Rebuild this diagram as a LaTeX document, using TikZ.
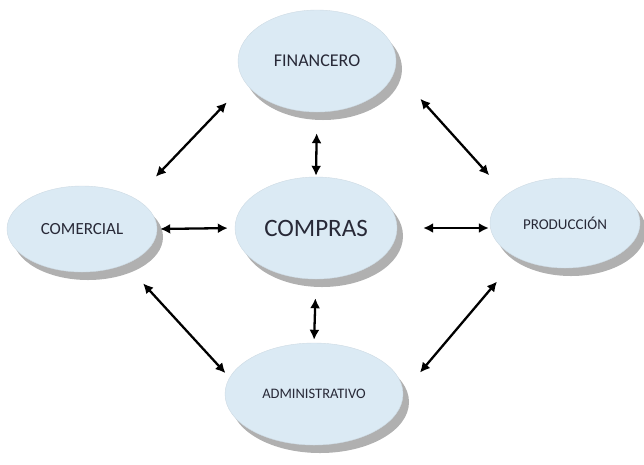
\documentclass[tikz,border=0pt]{standalone}
\usepackage{fontspec}
\setmainfont{Carlito}
\usetikzlibrary{shapes.geometric,shadows,arrows.meta}

\definecolor{deptblue}{RGB}{219,234,244}
\definecolor{deptink}{RGB}{40,41,55}

\tikzset{
  dept/.style = {ellipse, inner sep=0pt, fill=deptblue, draw=deptblue!85!gray,
    line width=0.4pt, text=deptink,
    drop shadow={shadow xshift=6pt, shadow yshift=-8pt, fill=gray!62, opacity=1}},
  link/.style = {line width=2.3pt, {Latex[length=10pt,width=10pt]}-{Latex[length=10pt,width=10pt]}}
}

\begin{document}
\begin{tikzpicture}[x=1pt, y=-1pt]
\useasboundingbox (0,0) rectangle (644,464);

% Departments
\node[dept, minimum width=158pt, minimum height=102pt, font=\fontsize{18}{20}\selectfont]
  (fin) at (317,61) {FINANCERO};
\node[dept, minimum width=162pt, minimum height=102pt, font=\fontsize{25}{28}\selectfont]
  (cmp) at (316,228) {COMPRAS};
\node[dept, minimum width=150pt, minimum height=86pt, font=\fontsize{17}{19}\selectfont]
  (com) at (82,229) {COMERCIAL};
\node[dept, minimum width=150pt, minimum height=90pt, font=\fontsize{15}{17}\selectfont]
  (pro) at (565,223) {PRODUCCIÓN};
\node[dept, minimum width=178pt, minimum height=102pt, font=\fontsize{14.5}{16}\selectfont]
  (adm) at (314,394) {ADMINISTRATIVO};

% Links to COMPRAS
\draw[link, shorten <=3pt, shorten >=7pt] (com.east) -- (cmp.west);
\draw[link, shorten <=26pt, shorten >=1pt] (cmp.east) -- (cmp.east -| pro.west);
\draw[link, shorten <=21pt, shorten >=1pt] (fin.south) -- (cmp.north);
\draw[link, shorten <=19pt, shorten >=3pt] (cmp.south) -- (adm.north);

% Outer ring
\draw[link, shorten <=30pt, shorten >=27pt] (com.30) -- (fin.197);
\draw[link, shorten <=38pt, shorten >=26pt] (fin.-7) -- (pro.154);
\draw[link, shorten <=26pt, shorten >=6pt] (com.-39) -- (adm.169);
\draw[link, shorten <=26pt, shorten >=31pt] (adm.1) -- (pro.216);

\end{tikzpicture}
\end{document}
